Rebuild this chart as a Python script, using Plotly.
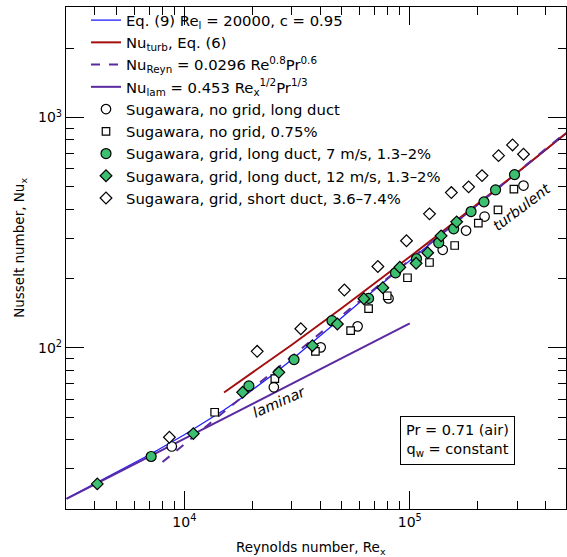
import plotly.graph_objects as go

# ---- curves ----
re_eq9 = [3000, 4000, 5000, 7000, 10000, 13000, 15000, 17500, 20000, 25000, 30000, 40000,
          50000, 70000, 100000, 150000, 200000, 300000, 500000]
nu_eq9 = [22.2, 25.7, 28.8, 34.4, 42.0, 49.1, 53.8, 59.6, 65.5, 77.3, 89.1, 112.6,
          135.6, 179.3, 240.1, 332.3, 417.0, 574.5, 861.6]

re_turb = [15000, 20000, 30000, 50000, 70000, 100000, 150000, 200000, 300000, 500000]
nu_turb = [64.1, 77.9, 103.3, 149.0, 190.7, 248.7, 338.1, 421.7, 577.7, 863.7]

re_reyn = [8000, 100000, 500000]
nu_reyn = [31.96, 241.1, 872.0]

re_lam = [3000, 100000]
nu_lam = [22.13, 127.8]

# ---- Sugawara data ----
re_nogrid_long = [8796, 24940, 40260, 58700, 80500, 140000, 177700, 214700, 319500]
nu_nogrid_long = [37.35, 67.5, 100.6, 124.1, 164.1, 266.8, 323.3, 371.9, 506.9]

re_nogrid_075 = [13630, 25200, 38140, 54650, 65660, 79430, 97680, 122300, 158200, 201400, 246200, 289700]
nu_nogrid_075 = [52.6, 73.6, 96.7, 118.9, 148.1, 168.5, 201.7, 235.0, 278.5, 348.2, 397.6, 489.0]

re_grid_7 = [7124, 19330, 30660, 45170, 65660, 86440, 107100, 134400, 156600, 187000, 213400, 240200, 291500]
nu_grid_7 = [33.8, 68.4, 89.0, 131.3, 164.1, 212.0, 243.9, 286.1, 328.9, 390.9, 430.7, 485.6, 565.5]

re_grid_12 = [4110, 10960, 18130, 26240, 36990, 47730, 62580, 75950, 90310, 106700, 120100, 137700, 161400]
nu_grid_12 = [25.7, 42.5, 64.2, 78.4, 102.3, 127.1, 163.6, 182.6, 224.0, 233.1, 258.9, 306.7, 352.7]

re_short = [8583, 21040, 32850, 51260, 72190, 96690, 122300, 152900, 182400, 209100, 247700, 285700, 319500]
nu_short = [40.97, 96.7, 121.2, 178.4, 225.8, 291.9, 382.1, 472.6, 500.4, 560.0, 683.5, 760.8, 693.2]

x_major = [1e4, 1e5]
x_major_text = ["10<sup>4</sup>", "10<sup>5</sup>"]
y_major = [100, 1000]
y_major_text = ["10<sup>2</sup>", "10<sup>3</sup>"]
x_minor = [4000, 5000, 6000, 7000, 8000, 9000, 20000, 30000, 40000, 50000, 60000, 70000,
           80000, 90000, 200000, 300000, 400000]
y_minor = [30, 40, 50, 60, 70, 80, 90, 200, 300, 400, 500, 600, 700, 800, 900, 2000]

FONT = "DejaVu Sans"
GREEN = "#3dbf72"

fig = go.Figure()
fig.add_trace(go.Scatter(x=re_eq9, y=nu_eq9, mode="lines", line=dict(color="#1f1fff", width=1.3),
                         name="Eq. (9) Re<sub>l</sub> = 20000, c = 0.95"))
fig.add_trace(go.Scatter(x=re_turb, y=nu_turb, mode="lines", line=dict(color="#a30f0f", width=2),
                         name="Nu<sub>turb</sub>, Eq. (6)"))
fig.add_trace(go.Scatter(x=re_reyn, y=nu_reyn, mode="lines", line=dict(color="#5b2aa0", width=2, dash="dash"),
                         name="Nu<sub>Reyn</sub> = 0.0296 Re<sup>0.8</sup>Pr<sup>0.6</sup>"))
fig.add_trace(go.Scatter(x=re_lam, y=nu_lam, mode="lines", line=dict(color="#5b2aa0", width=2),
                         name="Nu<sub>lam</sub> = 0.453 Re<sub>x</sub><sup>1/2</sup>Pr<sup>1/3</sup>"))
mk_line = dict(color="black", width=1.2)
fig.add_trace(go.Scatter(x=re_nogrid_long, y=nu_nogrid_long, mode="markers",
                         marker=dict(symbol="circle", size=9.5, color="white", line=mk_line),
                         name="Sugawara, no grid, long duct"))
fig.add_trace(go.Scatter(x=re_nogrid_075, y=nu_nogrid_075, mode="markers",
                         marker=dict(symbol="square", size=7.5, color="white", line=mk_line),
                         name="Sugawara, no grid, 0.75%"))
fig.add_trace(go.Scatter(x=re_grid_7, y=nu_grid_7, mode="markers",
                         marker=dict(symbol="circle", size=10, color=GREEN, line=mk_line),
                         name="Sugawara, grid, long duct, 7 m/s, 1.3–2%"))
fig.add_trace(go.Scatter(x=re_grid_12, y=nu_grid_12, mode="markers",
                         marker=dict(symbol="diamond", size=9, color=GREEN, line=mk_line),
                         name="Sugawara, grid, long duct, 12 m/s, 1.3–2%"))
fig.add_trace(go.Scatter(x=re_short, y=nu_short, mode="markers",
                         marker=dict(symbol="diamond", size=9, color="white", line=mk_line),
                         name="Sugawara, grid, short duct, 3.6–7.4%"))

axis_common = dict(type="log", showline=True, linecolor="black", linewidth=1.2, mirror="allticks",
                   ticks="inside", ticklen=18, tickwidth=1, tickcolor="black", showgrid=False,
                   zeroline=False, tickmode="array", tickfont=dict(family=FONT, size=14, color="black"))
fig.update_xaxes(**axis_common, range=[3.475, 5.693], tickvals=x_major, ticktext=x_major_text,
                 minor=dict(ticks="inside", ticklen=8, tickwidth=1, tickcolor="black",
                            tickmode="array", tickvals=x_minor, showgrid=False))
fig.update_yaxes(**axis_common, range=[1.301, 3.480], tickvals=y_major, ticktext=y_major_text,
                 minor=dict(ticks="inside", ticklen=8, tickwidth=1, tickcolor="black",
                            tickmode="array", tickvals=y_minor, showgrid=False))

ann = dict(xref="paper", yref="paper", showarrow=False, xanchor="center", yanchor="middle")
fig.add_annotation(text="Reynolds number, Re<sub>x</sub>", x=0.489, y=-0.077,
                   font=dict(family=FONT, size=13.5, color="black"), **ann)
fig.add_annotation(text="Nusselt number, Nu<sub>x</sub>", x=-0.0912, y=0.521, textangle=-90,
                   font=dict(family=FONT, size=13.5, color="black"), **ann)
fig.add_annotation(text="<i>laminar</i>", x=0.4258, y=0.214, textangle=-24,
                   font=dict(family=FONT, size=14.5, color="black"), **ann)
fig.add_annotation(text="<i>turbulent</i>", x=0.9118, y=0.601, textangle=-37,
                   font=dict(family=FONT, size=14.5, color="black"), **ann)
fig.add_annotation(text="Pr = 0.71 (air)<br>q<sub>w</sub> = constant", x=0.782, y=0.137,
                   bordercolor="black", borderwidth=1, borderpad=5, bgcolor="white",
                   font=dict(family=FONT, size=14.5, color="black"), **ann)

fig.update_layout(
    width=567, height=557, autosize=False,
    margin=dict(l=66, r=0, t=7, b=48),
    paper_bgcolor="white", plot_bgcolor="white",
    font=dict(family=FONT, size=13, color="black"),
    showlegend=True,
    legend=dict(x=0.04, y=1.006, xanchor="left", yanchor="top", bgcolor="rgba(0,0,0,0)",
                borderwidth=0, itemwidth=30, tracegroupgap=0,
                font=dict(family=FONT, size=14.8, color="black")),
)

post = ("document.documentElement.style.margin='0';document.body.style.margin='0';"
        "document.body.style.overflow='hidden';document.documentElement.style.overflow='hidden';"
        "var gd=document.getElementById('{plot_id}');Plotly.relayout(gd,{width:567,height:557});")
fig.write_html("out.html", config={"responsive": False, "displayModeBar": False}, post_script=post)
